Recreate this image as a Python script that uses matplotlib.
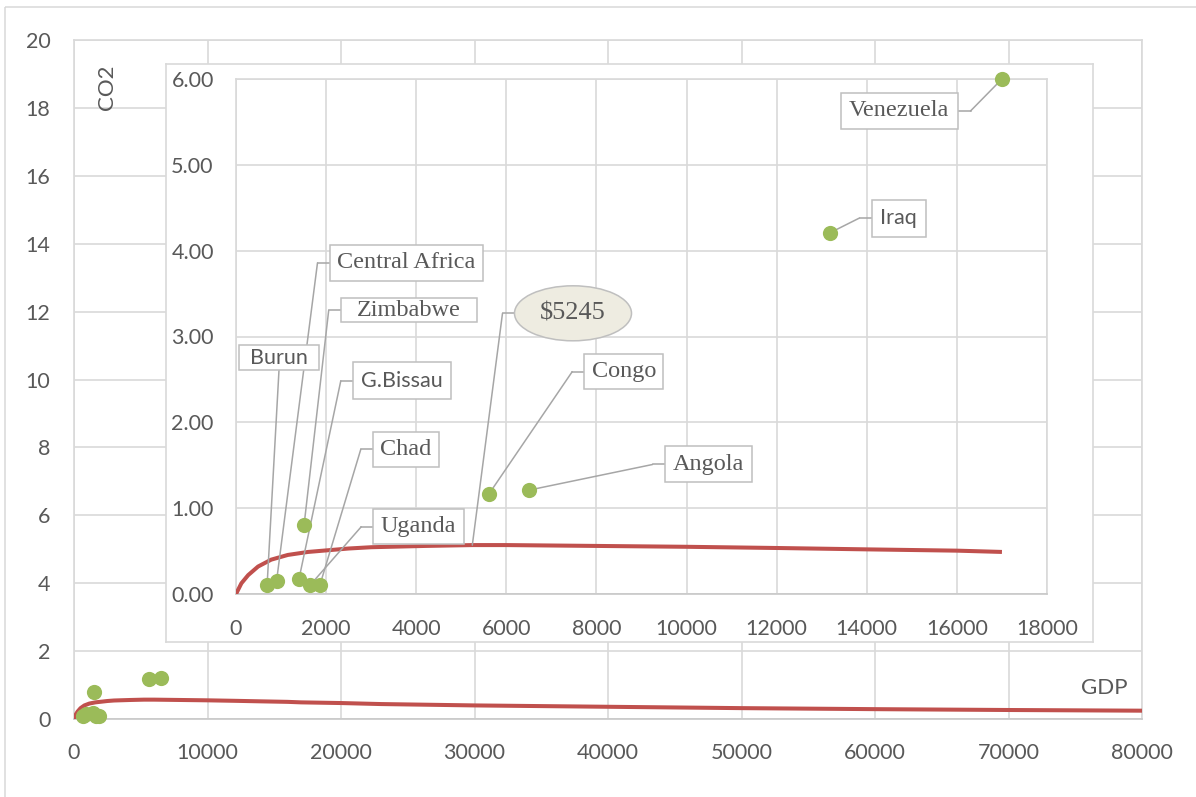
import matplotlib
matplotlib.use("Agg")
import matplotlib.pyplot as plt
from matplotlib.patches import Rectangle, Ellipse
from matplotlib.lines import Line2D
from matplotlib.transforms import Affine2D

W, H = 1196, 797

# ---- data ----
countries = ["Burun", "Central Africa", "G.Bissau", "Zimbabwe", "Uganda",
             "Chad", "Congo", "Angola", "Iraq", "Venezuela"]
gdp = [690, 900, 1400, 1510, 1640, 1860, 5620, 6500, 13190, 17000]
co2 = [0.10, 0.15, 0.18, 0.80, 0.10, 0.10, 1.17, 1.21, 4.21, 6.00]

curve_gdp = [0, 120, 270, 490, 780, 1150, 1600, 2050, 2500, 3000, 4200, 5245,
             6000, 8000, 10000, 12000, 14000, 16000, 17000, 20000, 23000,
             30000, 40000, 50000, 60000, 70000, 80000]
curve_co2 = [0.0, 0.125, 0.22, 0.32, 0.40, 0.455, 0.49, 0.51, 0.53, 0.545,
             0.56, 0.57, 0.57, 0.56, 0.55, 0.536, 0.52, 0.505, 0.49, 0.47,
             0.44, 0.40, 0.36, 0.32, 0.29, 0.265, 0.245]
inset_curve_max = 17000

turning_gdp = 5245
turning_label = "\\$5245"

main_xticks = [0, 10000, 20000, 30000, 40000, 50000, 60000, 70000, 80000]
main_yticks = [0, 2, 4, 6, 8, 10, 12, 14, 16, 18, 20]
inset_xticks = [0, 2000, 4000, 6000, 8000, 10000, 12000, 14000, 16000, 18000]
inset_yticks = [0, 1, 2, 3, 4, 5, 6]

# ---- styles ----
GRID = "#D9D9D9"
TXT = "#595959"
GREEN = "#9BBB59"
RED = "#C0504D"
BOXEDGE = "#BFBFBF"
LEADER = "#A6A6A6"
SANS = ["Lato", "DejaVu Sans"]
SERIF = ["Liberation Serif", "DejaVu Serif"]

plt.rcParams["font.family"] = SANS

fig = plt.figure(figsize=(W / 100, H / 100), dpi=100)
px = Affine2D().scale(1 / W, -1 / H).translate(0, 1) + fig.transFigure


def frac(l, t, r, b):
    return [l / W, 1 - b / H, (r - l) / W, (b - t) / H]


# outer chart border (left and top visible)
fig.add_artist(Rectangle((4.5, 6.5), 1400, 1000, transform=px, fill=False,
                         ec=GRID, lw=1.1))

# ---- main axes ----
ax = fig.add_axes(frac(74, 40, 1142, 719))
ax.set_xlim(0, 80000)
ax.set_ylim(0, 20)
ax.set_xticks(main_xticks)
ax.set_yticks(main_yticks)
ax.grid(True, color=GRID, lw=1.2)
ax.set_axisbelow(True)
for s in ax.spines.values():
    s.set_color(GRID)
    s.set_linewidth(1.2)
ax.spines["bottom"].set_color("#C8C8C8")
ax.tick_params(length=0, colors=TXT, labelsize=15.5)
ax.tick_params(axis="y", pad=17)
ax.tick_params(axis="x", pad=17)
ax.plot(curve_gdp, curve_co2, color=RED, lw=2.9, solid_capstyle="butt",
        solid_joinstyle="round", zorder=3)
ax.scatter(gdp, co2, s=120, color=GREEN, zorder=4, clip_on=False, lw=0)
ax.text(107, 87, "CO2", transform=px, rotation=90, ha="center", va="center",
        color=TXT, fontsize=16)
ax.text(1128, 688, "GDP", transform=px, ha="right", va="center",
        color=TXT, fontsize=16)

# ---- inset chart area ----
bg = fig.add_axes(frac(166, 64, 1093, 642))
bg.set_xticks([])
bg.set_yticks([])
bg.set_facecolor("white")
for s in bg.spines.values():
    s.set_color(GRID)
    s.set_linewidth(1.2)

ai = fig.add_axes(frac(236, 79, 1047, 594))
ai.set_xlim(0, 18000)
ai.set_ylim(0, 6)
ai.set_xticks(inset_xticks)
ai.set_yticks(inset_yticks)
ai.set_yticklabels([f"{v:.2f}" for v in inset_yticks])
ai.grid(True, color=GRID, lw=1.2)
ai.set_axisbelow(True)
for s in ai.spines.values():
    s.set_color(GRID)
    s.set_linewidth(1.2)
ai.spines["bottom"].set_color("#C8C8C8")
ai.tick_params(length=0, colors=TXT, labelsize=15.5)
ai.tick_params(axis="y", pad=16)
ai.tick_params(axis="x", pad=18)
cx_in = [x for x in curve_gdp if x <= inset_curve_max]
cy_in = curve_co2[:len(cx_in)]
ai.plot(cx_in, cy_in, color=RED, lw=2.9, solid_capstyle="butt",
        solid_joinstyle="round", zorder=3)
ai.scatter(gdp, co2, s=120, color=GREEN, zorder=4, clip_on=False, lw=0)

# ---- data labels: (centre x, centre y, w, h, family, size, side) ----
label_specs = {
    "Venezuela": (899, 111, 117, 36, SERIF, 17.5, "right"),
    "Iraq": (898.5, 218, 54, 37, SANS, 15.5, "left"),
    "Angola": (708, 464.5, 87, 36, SERIF, 17.5, "left"),
    "Congo": (623.7, 371.7, 79, 35, SERIF, 17.5, "left"),
    "Central Africa": (406, 262.8, 153, 36, SERIF, 17.5, "left"),
    "Zimbabwe": (408.7, 310.3, 136, 24, SERIF, 17.5, "left"),
    "Burun": (279, 357.5, 80, 25, SANS, 15.5, "bottom"),
    "G.Bissau": (401.8, 380.8, 98, 37, SANS, 15.5, "left"),
    "Chad": (405.8, 449.3, 66, 35, SERIF, 17.5, "left"),
    "Uganda": (418.7, 526.8, 91, 35, SERIF, 17.5, "left"),
}


def leader(x0, y0, gx, gy, side):
    if side == "right":
        ex, ey = x0 + 13, y0
    elif side == "left":
        ex, ey = x0 - 12, y0
    else:
        ex, ey = x0, y0
    if side != "bottom":
        fig.add_artist(Line2D([x0, ex], [y0, ey], transform=px, color=LEADER,
                              lw=1.1, zorder=1))
    ai.annotate("", xy=(gx, gy), xycoords="data", xytext=(ex, ey),
                textcoords=px,
                arrowprops=dict(arrowstyle="-", color=LEADER, lw=1.1,
                                shrinkA=0, shrinkB=0), zorder=3.5)


for name, g, c in zip(countries, gdp, co2):
    cxp, cyp, w, h, fam, size, side = label_specs[name]
    fig.add_artist(Rectangle((cxp - w / 2, cyp - h / 2), w, h, transform=px,
                             fc="white", ec=BOXEDGE, lw=1.1, zorder=5))
    fig.text(cxp / W, 1 - cyp / H, name, ha="center", va="center",
             family=fam, fontsize=size, color=TXT, zorder=6)
    if side == "right":
        x0, y0 = cxp + w / 2, cyp
    elif side == "left":
        x0, y0 = cxp - w / 2, cyp
    else:
        x0, y0 = cxp, cyp + h / 2
    leader(x0, y0, g, c, side)

# turning point callout
tp_y = curve_co2[curve_gdp.index(turning_gdp)]
ecx, ecy, ew, eh = 573, 313.3, 117, 55
fig.add_artist(Ellipse((ecx, ecy), ew, eh, transform=px, fc="#EEECE1",
                       ec=BOXEDGE, lw=1.1, zorder=5))
fig.text(ecx / W, 1 - ecy / H, turning_label, ha="center", va="center",
         family=SERIF, fontsize=19, color=TXT, zorder=6)
leader(ecx - ew / 2, ecy, turning_gdp, tp_y, "left")

fig.savefig("out.png", dpi=100)
